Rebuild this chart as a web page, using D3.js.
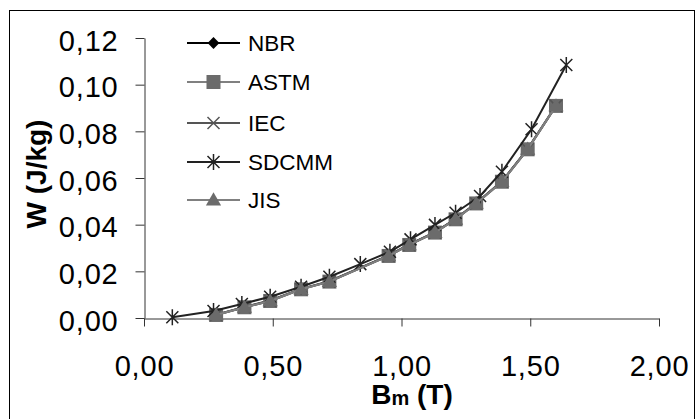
<!DOCTYPE html>
<html>
<head>
<meta charset="utf-8">
<script src="https://cdn.jsdelivr.net/npm/d3@7"></script>
<style>
  body { margin: 0; background: #fff; }
  svg { display: block; font-family: "Liberation Sans", Arial, sans-serif; }
</style>
</head>
<body>
<div id="chart"></div>
<script>
// values
const seriesNames = ["NBR", "ASTM", "IEC", "SDCMM", "JIS"];
const bCommon = [0.28, 0.39, 0.49, 0.61, 0.72, 0.95, 1.03, 1.13, 1.21, 1.29, 1.39, 1.49, 1.60];
const wNBR   = [0.0014, 0.0047, 0.0075, 0.0125, 0.0158, 0.0268, 0.0315, 0.0368, 0.0425, 0.0493, 0.0586, 0.0725, 0.0910];
const wASTM  = [0.0013, 0.0046, 0.0073, 0.0123, 0.0156, 0.0266, 0.0313, 0.0366, 0.0423, 0.0491, 0.0584, 0.0723, 0.0909];
const wIEC   = [0.0013, 0.0046, 0.0073, 0.0123, 0.0156, 0.0266, 0.0313, 0.0366, 0.0423, 0.0491, 0.0584, 0.0723, 0.0909];
const wJIS   = [0.0013, 0.0046, 0.0073, 0.0123, 0.0156, 0.0266, 0.0313, 0.0366, 0.0423, 0.0491, 0.0584, 0.0723, 0.0909];
const bSDCMM = [0.11, 0.27, 0.38, 0.49, 0.61, 0.72, 0.84, 0.955, 1.035, 1.13, 1.21, 1.305, 1.39, 1.505, 1.64];
const wSDCMM = [0.0003, 0.0030, 0.0060, 0.0091, 0.0134, 0.0177, 0.0231, 0.0284, 0.0337, 0.0399, 0.0451, 0.0523, 0.0627, 0.0809, 0.1084];
const xTicks = [0, 0.5, 1, 1.5, 2];
const yTicks = [0, 0.02, 0.04, 0.06, 0.08, 0.10, 0.12];

const series = [
  {name: "NBR",   b: bCommon, w: wNBR,   line: "#000", fill: "#000",    sym: "diamond"},
  {name: "ASTM",  b: bCommon, w: wASTM,  line: "#808080", fill: "#6b6b6b", sym: "square"},
  {name: "IEC",   b: bCommon, w: wIEC,   line: "#555", fill: "none",    sym: "x"},
  {name: "SDCMM", b: bSDCMM,  w: wSDCMM, line: "#222", fill: "none",    sym: "star"},
  {name: "JIS",   b: bCommon, w: wJIS,   line: "#808080", fill: "#6b6b6b", sym: "triangle"}
];

const W = 697, H = 419;
const svg = d3.select("#chart").append("svg").attr("width", W).attr("height", H);

// outer frame
svg.append("rect").attr("x", 9.5).attr("y", 10.5).attr("width", 685).attr("height", 420)
  .attr("fill", "#fff").attr("stroke", "#000").attr("stroke-width", 1);

const x = d3.scaleLinear().domain([0, 2]).range([144, 659]);
const y = d3.scaleLinear().domain([0, 0.12]).range([318, 38]);
const fmt = d => d3.format(".2f")(d).replace(".", ",");

const gy = svg.append("g").attr("transform", "translate(144.5,0)")
  .call(d3.axisLeft(y).tickValues(yTicks).tickFormat(fmt).tickSize(9).tickSizeOuter(0).tickPadding(17));
const gx = svg.append("g").attr("transform", "translate(0,318.5)")
  .call(d3.axisBottom(x).tickValues(xTicks).tickFormat(fmt).tickSize(8).tickSizeOuter(0).tickPadding(30));
[gy, gx].forEach(g => {
  g.select(".domain").attr("stroke", "#333");
  g.selectAll(".tick line").attr("stroke", "#333");
  g.selectAll(".tick text").attr("font-size", 29).attr("letter-spacing", 0.8).attr("fill", "#000")
    .attr("font-family", "Liberation Sans, Arial, sans-serif");
});
gy.selectAll(".tick text").attr("dy", "0.42em");
gx.selectAll(".tick text").attr("dy", "0.68em");

// axis titles
svg.append("text").attr("transform", "translate(46,174) rotate(-90)")
  .attr("text-anchor", "middle").attr("font-size", 28).attr("font-weight", "bold").text("W (J/kg)");
const xt = svg.append("text").attr("x", 412).attr("y", 404)
  .attr("text-anchor", "middle").attr("font-size", 28).attr("font-weight", "bold");
xt.append("tspan").text("B");
xt.append("tspan").attr("font-size", 20).attr("dy", 1).text("m");
xt.append("tspan").attr("dy", -1).text(" (T)");

function marker(g, s, cx, cy) {
  const r = 7;
  if (s.sym === "square") {
    g.append("rect").attr("x", cx - r).attr("y", cy - r).attr("width", 2 * r).attr("height", 2 * r)
      .attr("fill", s.fill);
  } else if (s.sym === "diamond") {
    g.append("path").attr("d", d3.symbol(d3.symbolSquare, 70)())
      .attr("transform", `translate(${cx},${cy}) rotate(45)`).attr("fill", s.fill);
  } else if (s.sym === "triangle") {
    g.append("path").attr("d", d3.symbol(d3.symbolTriangle, 100)())
      .attr("transform", `translate(${cx},${cy + 1})`).attr("fill", s.fill);
  } else {
    let d = `M${cx - 6},${cy - 6}L${cx + 6},${cy + 6}M${cx - 6},${cy + 6}L${cx + 6},${cy - 6}`;
    if (s.sym === "star") d += `M${cx},${cy - 8}L${cx},${cy + 8}`;
    g.append("path").attr("d", d).attr("stroke", s.line).attr("stroke-width", 1.5).attr("fill", "none");
  }
}

const line = d3.line().x(d => x(d[0])).y(d => y(d[1]));
series.forEach(s => {
  const pts = s.b.map((b, i) => [b, s.w[i]]);
  const g = svg.append("g");
  g.append("path").attr("d", line(pts)).attr("fill", "none")
    .attr("stroke", s.line).attr("stroke-width", 2);
  pts.forEach(p => marker(g, s, x(p[0]), y(p[1])));
});

// legend
const legY = [43, 82, 123, 162, 200];
series.forEach((s, i) => {
  const g = svg.append("g");
  g.append("line").attr("x1", 187).attr("x2", 240).attr("y1", legY[i]).attr("y2", legY[i])
    .attr("stroke", s.line).attr("stroke-width", 2);
  marker(g, s, 213.5, legY[i]);
  g.append("text").attr("x", 248).attr("y", legY[i] + 8).attr("font-size", 22.5).text(s.name);
});
</script>
</body>
</html>
